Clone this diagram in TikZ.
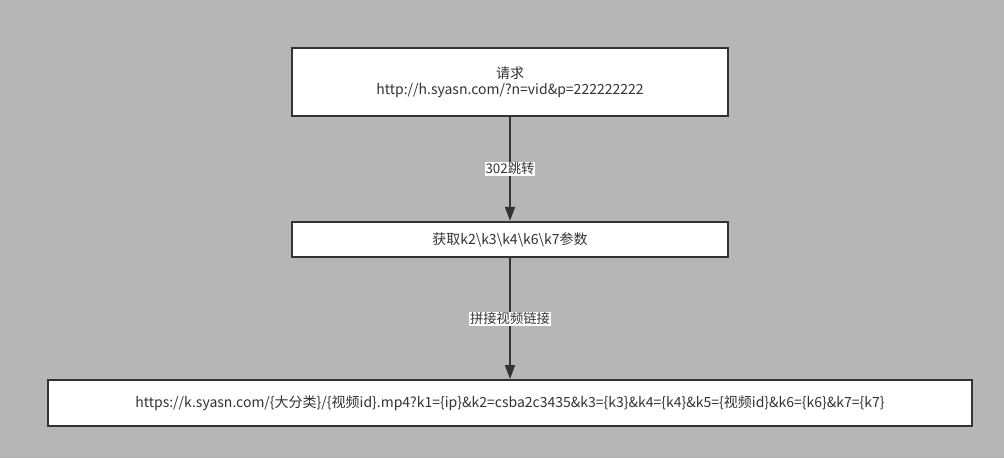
\documentclass[tikz,border=0pt]{standalone}
\usepackage{fontspec}
\setmainfont{Noto Sans CJK SC}
\usetikzlibrary{arrows.meta}
\definecolor{bg}{HTML}{B6B6B6}
\definecolor{ln}{HTML}{333333}
\definecolor{tx}{HTML}{333333}
\begin{document}
\begin{tikzpicture}[x=0.75pt,y=-0.75pt,
  box/.style={draw=ln,line width=1.5pt,fill=white,inner sep=0pt},
  conn/.style={draw=ln,line width=1.5pt,-{Triangle[length=10.5pt,width=7.5pt]}},
  lbl/.style={fill=white,inner sep=0.6pt,text=tx,font=\fontsize{10pt}{11pt}\selectfont},
  txt/.style={text=tx,font=\fontsize{10.5pt}{12pt}\selectfont,align=center}]
\fill[bg] (0,0) rectangle (1004,458);
\useasboundingbox (0,0) rectangle (1004,458);
\node[box,minimum width=327pt,minimum height=51pt] (b1) at (510,82) {};
\node[txt] at (510,82) {请求\\http://h.syasn.com/?n=vid\&p=222222222};
\node[box,minimum width=327pt,minimum height=26.5pt] (b2) at (510,239.5) {};
\node[txt] at (b2) {获取k2\textbackslash k3\textbackslash k4\textbackslash k6\textbackslash k7参数};
\node[box,minimum width=693.5pt,minimum height=34.5pt] (b3) at (510,403) {};
\node[txt] at (b3) {https://k.syasn.com/\{大分类\}/\{视频id\}.mp4?k1=\{ip\}\&k2=csba2c3435\&k3=\{k3\}\&k4=\{k4\}\&k5=\{视频id\}\&k6=\{k6\}\&k7=\{k7\}};
\draw[conn] (b1.south) -- node[lbl] {302跳转} (b2.north);
\draw[conn] (b2.south) -- node[lbl] {拼接视频链接} (b3.north);
\end{tikzpicture}
\end{document}
